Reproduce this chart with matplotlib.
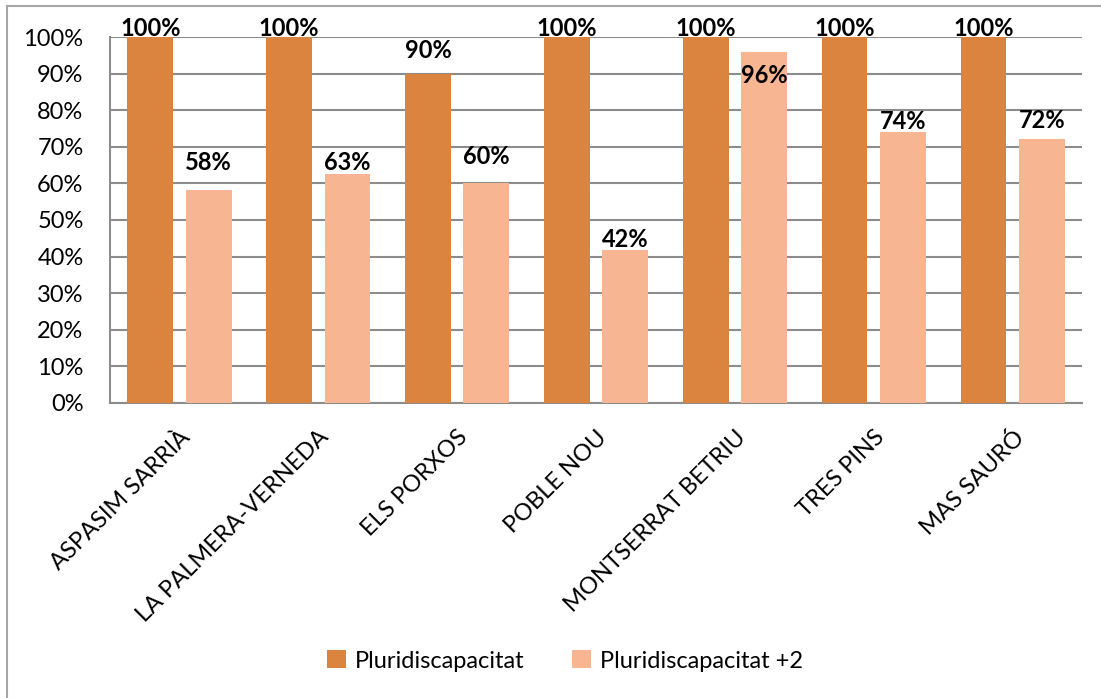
import matplotlib
matplotlib.use('Agg')
import matplotlib.pyplot as plt
import numpy as np

# data
centres = ['ASPASIM SARRIÀ', 'LA PALMERA-VERNEDA', 'ELS PORXOS', 'POBLE NOU',
           'MONTSERRAT BETRIU', 'TRES PINS', 'MAS SAURÓ']
pluri = [100, 100, 90, 100, 100, 100, 100]
pluri_2 = [58.3, 62.5, 60, 41.7, 95.8, 74.1, 72]
pluri_labels = ['100%', '100%', '90%', '100%', '100%', '100%', '100%']
pluri_2_labels = ['58%', '63%', '60%', '42%', '96%', '74%', '72%']

# label offsets (pixels above bar top) to match the manual placement
pluri_off = [9, 9, 23, 9, 9, 9, 9]
pluri_2_off = [27, 12, 27, 11, -23, 10, 19]

dark = '#DB843F'
light = '#F8B592'
grid_col = '#8C8C8C'

plt.rcParams['font.family'] = ['Lato', 'DejaVu Sans']

fig = plt.figure(figsize=(11.01, 6.98), dpi=100)
ax = fig.add_axes([110 / 1101, 1 - 403 / 698, (1082 - 110) / 1101, (403 - 37) / 698])

x = np.arange(len(centres))
w = 0.33
off = 0.21
b1 = ax.bar(x - off, pluri, w, color=dark, label='Pluridiscapacitat', zorder=3)
b2 = ax.bar(x + off, pluri_2, w, color=light, label='Pluridiscapacitat +2', zorder=3)

for bars, labels, offs in [(b1, pluri_labels, pluri_off), (b2, pluri_2_labels, pluri_2_off)]:
    for bar, lab, o in zip(bars, labels, offs):
        ax.annotate(lab, (bar.get_x() + bar.get_width() / 2, bar.get_height()),
                    xytext=(0, o * 0.72), textcoords='offset points',
                    ha='center', va='center', fontsize=17, fontweight='bold',
                    color='black', zorder=4, annotation_clip=False)

ax.set_xlim(-0.5, len(centres) - 0.5)
ax.set_ylim(0, 100)
ax.set_yticks(range(0, 101, 10))
ax.set_yticklabels([f'{v}%' for v in range(0, 101, 10)], fontsize=17)
ax.yaxis.grid(True, color=grid_col, linewidth=1.5, zorder=0)
ax.set_xticks(x)
ax.set_xticklabels(centres, rotation=45, ha='right', rotation_mode='anchor', fontsize=17)
ax.tick_params(axis='y', length=0, pad=19)
ax.tick_params(axis='x', length=0, pad=17)

for s in ['top', 'right']:
    ax.spines[s].set_visible(False)
for s in ['left', 'bottom']:
    ax.spines[s].set_color(grid_col)
    ax.spines[s].set_linewidth(1.5)

# outer chart border (left and top visible)
fig.add_artist(plt.Line2D([7 / 1101, 7 / 1101], [0, 1 - 6 / 698], color='#A6A6A6', lw=1.5))
fig.add_artist(plt.Line2D([7 / 1101, 1], [1 - 6 / 698, 1 - 6 / 698], color='#A6A6A6', lw=1.5))

fig.legend(loc='center', bbox_to_anchor=(565 / 1101, 1 - 661 / 698), ncol=2, frameon=False,
           fontsize=17, handlelength=0.8, handleheight=0.8, columnspacing=2.0, handletextpad=0.4)

fig.savefig('out.png', dpi=100)
